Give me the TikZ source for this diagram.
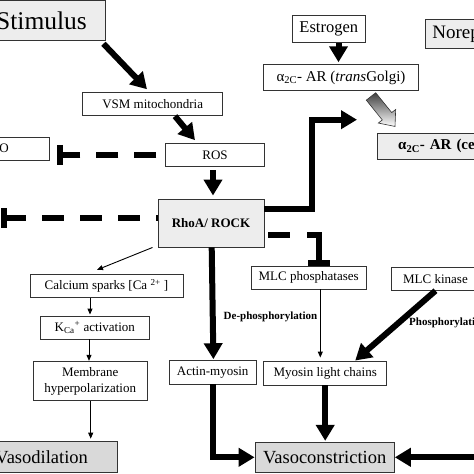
\documentclass[tikz,border=0pt]{standalone}
\usepackage{fontspec}
\setmainfont{Liberation Serif}
\usetikzlibrary{arrows.meta,calc}
\begin{document}
\begin{tikzpicture}[x=1pt,y=-1pt,
  box/.style={draw=black!80, line width=0.9pt, fill=white, inner sep=0pt, font=\fontsize{13pt}{16pt}\selectfont, text=black},
  graybox/.style={box, fill=black!7},
  darkbox/.style={box, fill=black!15},
  thickarrow/.style={line width=6pt, -{Triangle[length=16pt,width=18pt]}},
  thinarrow/.style={line width=0.9pt, -{Triangle[length=6pt,width=5pt]}},
  thickline/.style={line width=6pt},
  inhdash/.style={line width=6pt, dash pattern=on 22pt off 16pt},
  lbl/.style={font=\bfseries\fontsize{11pt}{13pt}\selectfont, inner sep=0pt}
]
\useasboundingbox (0,0) rectangle (474,474);
\clip (0,0) rectangle (474,474);

% nodes
\node[graybox, minimum width=127pt, minimum height=39.8pt, font=\fontsize{25.5pt}{30pt}\selectfont] (stim) at (41.5,20.4) {Stimulus};
\node[box, minimum width=140pt, minimum height=23pt] (vsm) at (152.7,104.2) {VSM mitochondria};
\node[box, minimum width=98.6pt, minimum height=22.3pt] (ros) at (215,154.8) {ROS};
\node[box, minimum width=99pt, minimum height=23pt] (no) at (-0.5,148.5) {NO};
\node[graybox, minimum width=106pt, minimum height=48pt, font=\bfseries\fontsize{13pt}{16pt}\selectfont] (rhoa) at (211,223) {RhoA/ ROCK};
\node[box, minimum width=73pt, minimum height=27.7pt, font=\fontsize{16.5pt}{20pt}\selectfont] (estr) at (328.8,28.8) {Estrogen};
\node[box, minimum width=155.4pt, minimum height=25.6pt, font=\fontsize{15pt}{18pt}\selectfont] (golgi) at (341,77.5) {α\textsubscript{2C}- AR (\textit{trans}Golgi)};
\node[graybox, anchor=west, minimum height=25.7pt, text width=200pt, inner xsep=21pt, align=left, font=\bfseries\fontsize{15pt}{18pt}\selectfont] (cell) at (376.7,146.2) {α\textsubscript{2C}- AR (cell surface)};
\node[graybox, anchor=west, minimum height=29.7pt, text width=160pt, inner xsep=6.7pt, align=left, font=\fontsize{19pt}{23pt}\selectfont] (norep) at (425.3,33.8) {Norepinephrine};
\node[box, minimum width=153pt, minimum height=23pt] (calc) at (106.5,285.8) {Calcium sparks [Ca \textsuperscript{2+} ]};
\node[box, minimum width=109pt, minimum height=23pt] (kca) at (94.8,327.5) {K\textsubscript{Ca}\textsuperscript{+} activation};
\node[box, minimum width=114.3pt, minimum height=39.4pt, align=center] (memb) at (90.2,381) {Membrane\\hyperpolarization};
\node[darkbox, minimum width=151.2pt, minimum height=30.3pt, font=\fontsize{18.5pt}{22pt}\selectfont] (vdil) at (41.7,456.8) {Vasodilation};
\node[darkbox, minimum width=139.3pt, minimum height=30pt, font=\fontsize{18.5pt}{22pt}\selectfont] (vcon) at (324.7,457.3) {Vasoconstriction};
\node[box, minimum width=87.3pt, minimum height=23.3pt] (actin) at (212.7,372.3) {Actin-myosin};
\node[box, minimum width=114.7pt, minimum height=23pt] (mlcp) at (308.7,277.5) {MLC phosphatases};
\node[box, minimum width=123pt, minimum height=24pt] (mlc) at (325.2,373) {Myosin light chains};
\node[box, minimum width=88.4pt, minimum height=23pt] (mlck) at (435.5,278.8) {MLC kinase};
\node[lbl] (deph) at (270.5,316.7) {De-phosphorylation};
\node[lbl, anchor=west] (phos) at (409,322.7) {Phosphorylation};

% free ends
\coordinate (noBar) at (60,154.8);
\coordinate (rhoBar) at (4,218);
\coordinate (upTip) at (357,119.7);
\coordinate (rightIn) at (480,457.3);

% thick arrows
\draw[thickarrow] ([xshift=-2pt,yshift=-3pt]stim.south east) -- ([xshift=-5.7pt,yshift=3pt]vsm.north);
\draw[thickarrow] ([xshift=22.3pt]vsm.south) -- ([xshift=-20pt,yshift=3pt]ros.north);
\draw[thickarrow] ([xshift=-2pt,yshift=-4pt]ros.south) -- ([xshift=2pt,yshift=3pt]rhoa.north);
\draw[thickarrow] ([xshift=9.7pt]estr.south) -- ([xshift=-2.5pt,yshift=2pt]golgi.north);
\draw[thickarrow] ([yshift=14pt]rhoa.east) -- ++(47.7,0) |- (upTip);
\draw[thickarrow] ([xshift=0.7pt]rhoa.south) -- ([xshift=0.7pt,yshift=1pt]actin.north);
\draw[thickarrow] (actin.south) |- (vcon.west);
\draw[thickarrow] (mlc.south) -- ([yshift=1pt]mlc.south |- vcon.north);
\draw[thickarrow] (mlck.south) -- ([xshift=30pt]mlc.north);
\draw[thickarrow] (rightIn) -- (vcon.east);

% thin arrows
\draw[thinarrow] ([xshift=-5pt]rhoa.south west) -- ([xshift=-9.5pt,yshift=4pt]calc.north);
\draw[thinarrow] ([xshift=-16.5pt]calc.south) -- ([xshift=-4.8pt,yshift=1pt]kca.north);
\draw[thinarrow] ([xshift=-5.8pt]kca.south) -- ([xshift=-1.2pt]memb.north);
\draw[thinarrow] ([xshift=0.5pt]memb.south) -- ([xshift=49pt,yshift=2.5pt]vdil.north);
\draw[thinarrow] ([xshift=11.6pt]mlcp.south) -- ([xshift=-4.9pt,yshift=3pt]mlc.north);

% inhibitions
\draw[inhdash, dash phase=29pt] (ros.west) -- (noBar);
\draw[thickline] ([yshift=10pt]noBar) -- ([yshift=-10pt]noBar);
\draw[inhdash, dash phase=20pt] ([yshift=5pt]rhoa.west) -- (rhoBar);
\draw[thickline] ([yshift=10pt]rhoBar) -- ([yshift=-10pt]rhoBar);
\draw[thickline] ([xshift=4pt,yshift=-12.3pt]rhoa.east) -- ++(22,0);
\draw[thickline] ([xshift=43pt,yshift=-12.3pt]rhoa.east) -| ([xshift=10pt,yshift=6pt]mlcp.north);
\draw[thickline] ([xshift=-0.4pt,yshift=3pt]mlcp.north) -- ([xshift=21.6pt,yshift=3pt]mlcp.north);

% shaded block arrow from trans-Golgi to cell surface
\begin{scope}[shift={(golgi.south)}]
\shade[top color=black!75, bottom color=white, draw=black!80, line width=0.6pt]
  (34.7,2) -- (50.7,21.8) -- (54.7,18.7) -- (54,35.7) -- (37.3,32.3) -- (41.3,29.2) -- (25.3,9.4) -- cycle;
\end{scope}
\end{tikzpicture}
\end{document}
